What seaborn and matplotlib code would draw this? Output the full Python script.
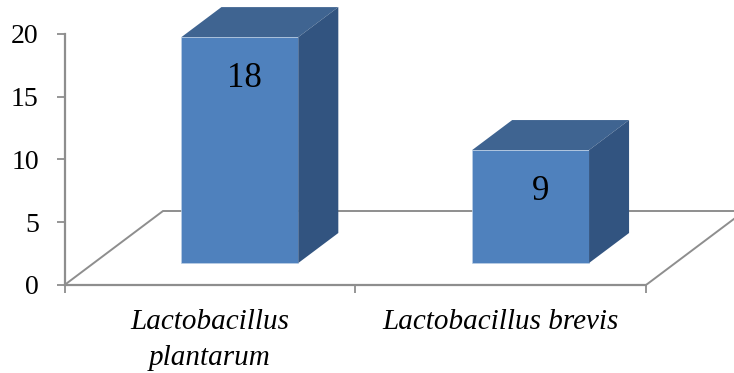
import matplotlib
matplotlib.use("Agg")
import matplotlib.pyplot as plt
from matplotlib.patches import Polygon
import pandas as pd
import seaborn as sns

species = ["Lactobacillus\nplantarum", "Lactobacillus brevis"]
counts = [18, 9]
y_ticks = [0, 5, 10, 15, 20]

W, H = 734, 373
PX_PER_UNIT = 251 / 20      # vertical scale of the value axis
PX_PER_CAT = 290.75         # horizontal width of one category
AXIS_LEFT, AXIS_BASE = 64.5, 285

FRONT, TOP, SIDE = "#4F81BD", "#3F6491", "#325480"
AXIS_GREY = "#8E8E8E"

# Oblique projection used for the pseudo-3D box look
BAR_LIFT = 22 / PX_PER_UNIT
BAR_SHIFT = 30 / PX_PER_CAT
BOX_DX, BOX_DY = 40 / PX_PER_CAT, 30 / PX_PER_UNIT
FLOOR_DX, FLOOR_DY = 98.5 / PX_PER_CAT, 74 / PX_PER_UNIT
LABEL_NUDGE = [3.0, 7.0]    # horizontal label offsets in points

sns.set_theme(style="white")
plt.rcParams["font.family"] = ["Liberation Serif", "DejaVu Serif"]

fig = plt.figure(figsize=(W / 100, H / 100), dpi=100)
ax = fig.add_axes([AXIS_LEFT / W, (H - AXIS_BASE) / H, (W - AXIS_LEFT) / W, AXIS_BASE / H])
ax.patch.set_alpha(0)

frame = pd.DataFrame({"species": species, "count": counts})
sns.barplot(data=frame, x="species", y="count", color=FRONT, saturation=1,
            width=0.402, bottom=BAR_LIFT, edgecolor="#BCD0E6", linewidth=0.5,
            ax=ax, zorder=3)

ax.set_xlim(-0.5, -0.5 + (W - AXIS_LEFT) / PX_PER_CAT)
ax.set_ylim(0, AXIS_BASE / PX_PER_UNIT)
ax.set_xlabel("")
ax.set_ylabel("")

# Floor parallelogram behind the bars
x0, x1 = -0.5, 1.5
ax.plot([x0, x0 + FLOOR_DX, x1 + FLOOR_DX], [0, FLOOR_DY, FLOOR_DY],
        color=AXIS_GREY, lw=1.4, zorder=1, solid_joinstyle="miter")
ax.plot([x1, x1 + FLOOR_DX], [0, FLOOR_DY], color=AXIS_GREY, lw=1.4, zorder=1)

# Turn each flat bar into a box and label it from its own value
for patch, value, nudge in zip(ax.patches, counts, LABEL_NUDGE):
    patch.set_x(patch.get_x() + BAR_SHIFT)
    left, right = patch.get_x(), patch.get_x() + patch.get_width()
    low, high = patch.get_y(), patch.get_y() + patch.get_height()
    ax.add_patch(Polygon([(left, high), (right, high),
                          (right + BOX_DX, high + BOX_DY), (left + BOX_DX, high + BOX_DY)],
                         closed=True, facecolor=TOP, edgecolor="none", zorder=3, clip_on=False))
    ax.add_patch(Polygon([(right, low), (right + BOX_DX, low + BOX_DY),
                          (right + BOX_DX, high + BOX_DY), (right, high)],
                         closed=True, facecolor=SIDE, edgecolor="none", zorder=3, clip_on=False))
    ax.annotate(str(value), xy=((left + right) / 2, high), xytext=(nudge, -30),
                textcoords="offset points", ha="center", va="center",
                fontsize=25, color="black", zorder=4)

for name in ("top", "right"):
    ax.spines[name].set_visible(False)
for name in ("left", "bottom"):
    ax.spines[name].set_color(AXIS_GREY)
    ax.spines[name].set_linewidth(1.6)
    ax.spines[name].set_zorder(2)
ax.spines["left"].set_bounds(0, 20)
ax.spines["bottom"].set_bounds(x0, x1)

ax.set_yticks(y_ticks)
ax.tick_params(axis="y", which="major", left=True, length=6, width=1.3, color=AXIS_GREY,
               pad=12.5, labelsize=20, labelcolor="black")

# Ticks sit between categories; the names are centred on hidden minor ticks
ax.set_xticks([-0.5, 0.5, 1.5])
ax.set_xticklabels([])
ax.set_xticks([0, 1], minor=True)
ax.set_xticklabels(species, minor=True, fontstyle="italic", linespacing=1.5)
ax.tick_params(axis="x", which="major", bottom=True, length=6, width=1.3, color=AXIS_GREY)
ax.tick_params(axis="x", which="minor", bottom=False, length=0, pad=17,
               labelsize=21, labelcolor="black")

fig.savefig("out.png", dpi=100, facecolor="white")
